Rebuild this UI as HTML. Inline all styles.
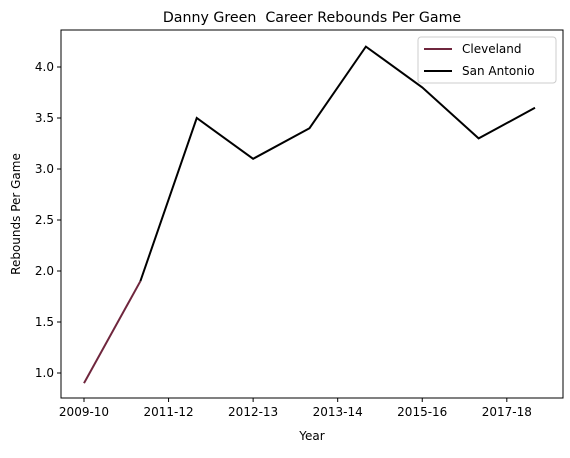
<!DOCTYPE html>
<html><head><meta charset="utf-8"><style>
body{margin:0;background:#fff;}
svg text{font-family:"DejaVu Sans","Liberation Sans",sans-serif;white-space:pre;}
</style></head><body>
<svg id="chart" width="570" height="453" xmlns="http://www.w3.org/2000/svg">
<rect width="570" height="453" fill="#fff"/>
<text x="312" y="22" font-size="14.2" text-anchor="middle" xml:space="preserve">Danny Green  Career Rebounds Per Game</text>
<g id="plot"></g>
<rect x="61" y="30" width="502" height="368" fill="none" stroke="#000" stroke-width="1"/>
<text x="312" y="440" font-size="12" text-anchor="middle">Year</text>
<text transform="translate(20,214) rotate(-90)" font-size="12" text-anchor="middle">Rebounds Per Game</text>
<g>
<rect x="418" y="37" width="138" height="46" fill="#fff" stroke="#ccc" rx="3"/>
<line x1="424" y1="49" x2="452" y2="49" stroke="#6f263d" stroke-width="2"/>
<text x="462" y="53" font-size="12">Cleveland</text>
<line x1="424" y1="71" x2="452" y2="71" stroke="#000" stroke-width="2"/>
<text x="462" y="75" font-size="12">San Antonio</text>
</g>
</svg>
<script>
const seasons = [0,1,2,3,4,5,6,7,8];
const clevelandIdx = [0,1];
const clevelandVals = [0.9,1.9];
const sanAntonioIdx = [1,2,3,4,5,6,7,8];
const sanAntonioVals = [1.9,3.5,3.1,3.4,4.2,3.8,3.3,3.6];
const xTickPos = [0,1.5,3,4.5,6,7.5];
const xTickLabels = ["2009-10","2011-12","2012-13","2013-14","2015-16","2017-18"];
const yTicks = [1.0,1.5,2.0,2.5,3.0,3.5,4.0];

const X = i => 84 + i*56.375;
const Y = v => 373 - (v-1.0)*102;
const ns = "http://www.w3.org/2000/svg";
const g = document.getElementById('plot');
function mk(t,a){const e=document.createElementNS(ns,t);for(const k in a)e.setAttribute(k,a[k]);g.appendChild(e);return e;}
xTickPos.forEach((p,i)=>{
  const l=mk('line',{x1:X(p),x2:X(p),y1:398,y2:402,stroke:'#000'});
  
  
  const t=mk('text',{x:X(p),y:416,'font-size':12,'text-anchor':'middle'});t.textContent=xTickLabels[i];
  
  
});
yTicks.forEach(v=>{
  const l=mk('line',{x1:57,x2:61,y1:Y(v),y2:Y(v),stroke:'#000'});
  
  
  const t=mk('text',{x:54,y:Y(v)+4,'font-size':12,'text-anchor':'end'});t.textContent=v.toFixed(1);
  
  
});
const p1=mk('polyline',{points:clevelandIdx.map((i,k)=>X(i)+','+Y(clevelandVals[k])).join(' '),fill:'none',stroke:'#6f263d','stroke-width':2});


const p2=mk('polyline',{points:sanAntonioIdx.map((i,k)=>X(i)+','+Y(sanAntonioVals[k])).join(' '),fill:'none',stroke:'#000','stroke-width':2});


</script>
</body></html>
